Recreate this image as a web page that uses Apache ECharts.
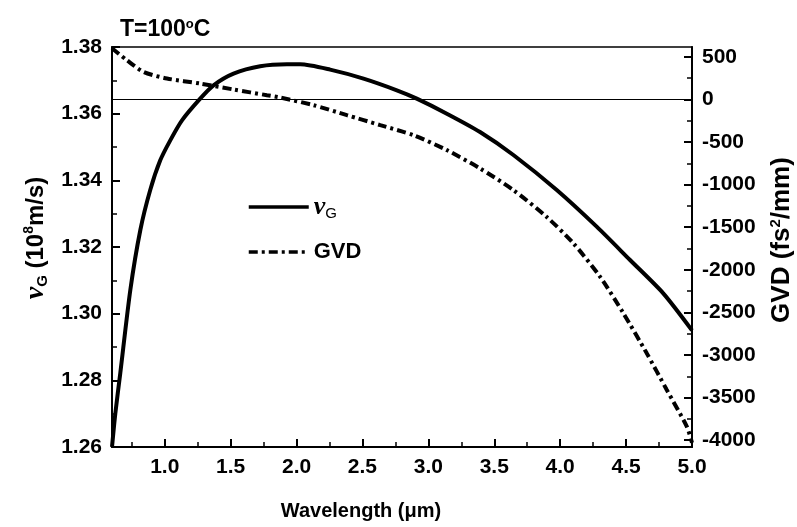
<!DOCTYPE html>
<html>
<head>
<meta charset="utf-8">
<script src="https://cdn.jsdelivr.net/npm/echarts@6/dist/echarts.min.js"></script>
<style>
  html, body { margin: 0; padding: 0; background: #fff; }
  #chart { width: 797px; height: 527px; }
</style>
</head>
<body>
<div id="chart"></div>
<script>
// ---- data ----
const vgWavelength = [0.60, 0.625, 0.663, 0.739, 0.815, 0.890, 0.966, 1.042, 1.131, 1.269, 1.370, 1.522, 1.724, 1.927, 2.028, 2.255, 2.508, 2.761, 2.912, 3.140, 3.392, 3.645, 3.974, 4.277, 4.530, 4.782, 5.000];
const vgValues     = [1.2600, 1.2700, 1.2822, 1.3071, 1.3251, 1.3371, 1.3460, 1.3520, 1.3580, 1.3645, 1.3685, 1.3720, 1.3742, 1.3748, 1.3748, 1.3732, 1.3705, 1.3670, 1.3645, 1.3600, 1.3545, 1.3476, 1.3371, 1.3261, 1.3161, 1.3061, 1.2950];

const gvdWavelength = [0.60, 0.714, 0.84, 1.017, 1.27, 1.522, 1.775, 1.876, 2.129, 2.382, 2.635, 2.888, 3.14, 3.392, 3.645, 3.898, 4.10, 4.302, 4.479, 4.656, 4.808, 4.96, 5.0];
const gvdValues     = [600, 459, 322, 245, 186, 116, 49, 22, -68, -185, -302, -420, -595, -810, -1064, -1380, -1689, -2080, -2509, -2978, -3408, -3838, -4030];

const xMajorTicks = [1.0, 1.5, 2.0, 2.5, 3.0, 3.5, 4.0, 4.5, 5.0];
const xMinorTicks = [0.75, 1.25, 1.75, 2.25, 2.75, 3.25, 3.75, 4.25, 4.75];
const gvdMajorTicks = [-4000, -3500, -3000, -2500, -2000, -1500, -1000, -500, 0, 500];
const gvdMinorTicks = [-3750, -3250, -2750, -2250, -1750, -1250, -750, -250, 250];

// ---- chart ----
const FONT = 'Liberation Sans';
const black = '#000';
const labelStyle = { color: black, fontFamily: FONT, fontWeight: 'bold', fontSize: 21 };

const chart = echarts.init(document.getElementById('chart'), null, { renderer: 'canvas' });

const gridBox = { left: 112, right: 105, top: 47, bottom: 80, outerBoundsMode: 'none', containLabel: false };

const option = {
  backgroundColor: '#fff',
  animation: false,
  title: {
    text: '{t|T=100}{s|o}{t|C}',
    left: 115, top: 13,
    textStyle: {
      rich: {
        t: { fontFamily: FONT, fontWeight: 'bold', fontSize: 23, color: black },
        s: { fontFamily: FONT, fontWeight: 'bold', fontSize: 13, color: black, verticalAlign: 'top', padding: [0, 0, 11, 0] }
      }
    }
  },
  grid: [
    Object.assign({ show: true, borderColor: black, borderWidth: 1.5, backgroundColor: 'transparent' }, gridBox),
    Object.assign({ show: false }, gridBox)
  ],
  legend: {
    left: 242, top: 189, orient: 'vertical',
    itemWidth: 60, itemHeight: 14, itemGap: 20,
    data: ['vG', 'GVD'],
    itemStyle: { opacity: 0 },
    lineStyle: { width: 3.5 },
    formatter: function (n) { return n === 'vG' ? '{v|v}{g|G}' : '{b|GVD}'; },
    textStyle: {
      rich: {
        v: { fontFamily: 'Liberation Serif', fontStyle: 'italic', fontWeight: 'bold', fontSize: 26, color: black },
        g: { fontFamily: FONT, fontSize: 15, color: black, padding: [13, 0, 0, 0] },
        b: { fontFamily: FONT, fontWeight: 'bold', fontSize: 22, color: black }
      }
    }
  },
  xAxis: [
    {
      gridIndex: 0, type: 'value', min: 0.6, max: 5.0, position: 'bottom',
      name: 'Wavelength (\u03bcm)', nameLocation: 'middle', nameGap: 54,
      nameTextStyle: Object.assign({}, labelStyle, { fontSize: 20, padding: [0, 82, 0, 0] }),
      axisLine: { show: true, onZero: false, lineStyle: { color: black, width: 2 } },
      axisTick: { show: true, inside: true, length: 8, customValues: xMajorTicks, lineStyle: { color: black, width: 2 } },
      axisLabel: Object.assign({ customValues: xMajorTicks, margin: 10, formatter: v => v.toFixed(1) }, labelStyle),
      splitLine: { show: false }
    },
    {
      gridIndex: 1, type: 'value', min: 0.6, max: 5.0, position: 'bottom',
      axisLine: { show: false, onZero: false },
      axisTick: { show: true, inside: true, length: 5, customValues: xMinorTicks, lineStyle: { color: black, width: 1.5 } },
      axisLabel: { show: false },
      splitLine: { show: false }
    }
  ],
  yAxis: [
    {
      gridIndex: 0, type: 'value', min: 1.26, max: 1.38, interval: 0.02, position: 'left',
      name: '{v|v}{g|G}{t| (10}{s|8}{t|m/s)}', nameLocation: 'middle', nameGap: 62,
      nameTextStyle: {
        padding: [0, 0, 0, 18],
        rich: {
          v: { fontFamily: 'Liberation Serif', fontStyle: 'italic', fontWeight: 'bold', fontSize: 28, color: black },
          g: { fontFamily: FONT, fontWeight: 'bold', fontSize: 15, color: black, padding: [13, 0, 0, 0] },
          t: { fontFamily: FONT, fontWeight: 'bold', fontSize: 24, color: black },
          s: { fontFamily: FONT, fontWeight: 'bold', fontSize: 14, color: black, verticalAlign: 'top', padding: [0, 0, 11, 0] }
        }
      },
      axisLine: { show: true, onZero: false, lineStyle: { color: black, width: 2 } },
      axisTick: { show: true, inside: true, length: 8, lineStyle: { color: black, width: 2 } },
      minorTick: { show: true, splitNumber: 2, length: 5, lineStyle: { color: black, width: 1.5 } },
      axisLabel: Object.assign({ margin: 10, formatter: v => v.toFixed(2) }, labelStyle),
      splitLine: { show: false }, minorSplitLine: { show: false }
    },
    {
      gridIndex: 0, type: 'value', min: -4080, max: 615, position: 'right',
      name: 'GVD (fs{s|2}/mm)', nameLocation: 'middle', nameGap: 76,
      nameTextStyle: Object.assign({}, labelStyle, {
        fontSize: 26,
        padding: [0, 0, 0, 14],
        rich: {
          s: { fontFamily: FONT, fontWeight: 'bold', fontSize: 15, color: black, verticalAlign: 'top', padding: [0, 0, 12, 0] }
        }
      }),
      axisLine: { show: true, onZero: false, lineStyle: { color: black, width: 2 } },
      axisTick: { show: true, inside: true, length: 8, customValues: gvdMajorTicks, lineStyle: { color: black, width: 2 } },
      axisLabel: Object.assign({ customValues: gvdMajorTicks, margin: 10, formatter: v => String(v) }, labelStyle),
      splitLine: { show: false }
    },
    {
      gridIndex: 1, type: 'value', min: -4080, max: 615, position: 'right',
      axisLine: { show: false, onZero: false },
      axisTick: { show: true, inside: true, length: 5, customValues: gvdMinorTicks, lineStyle: { color: black, width: 1.5 } },
      axisLabel: { show: false },
      splitLine: { show: false }
    }
  ],
  series: [
    {
      name: 'vG', type: 'line', xAxisIndex: 0, yAxisIndex: 0,
      data: vgWavelength.map((x, i) => [x, vgValues[i]]),
      showSymbol: false, symbol: 'none', smooth: 0.25,
      lineStyle: { color: black, width: 4 },
      itemStyle: { color: black }
    },
    {
      name: 'GVD', type: 'line', xAxisIndex: 0, yAxisIndex: 1,
      data: gvdWavelength.map((x, i) => [x, gvdValues[i]]),
      showSymbol: false, symbol: 'none', smooth: 0.25,
      lineStyle: { color: black, width: 4, type: [9, 4, 3, 4] },
      itemStyle: { color: black },
      markLine: {
        silent: true, symbol: 'none', label: { show: false },
        lineStyle: { color: black, width: 1.2, type: 'solid' },
        data: [{ yAxis: 0 }]
      }
    }
  ]
};
chart.setOption(option);
</script>
</body>
</html>
